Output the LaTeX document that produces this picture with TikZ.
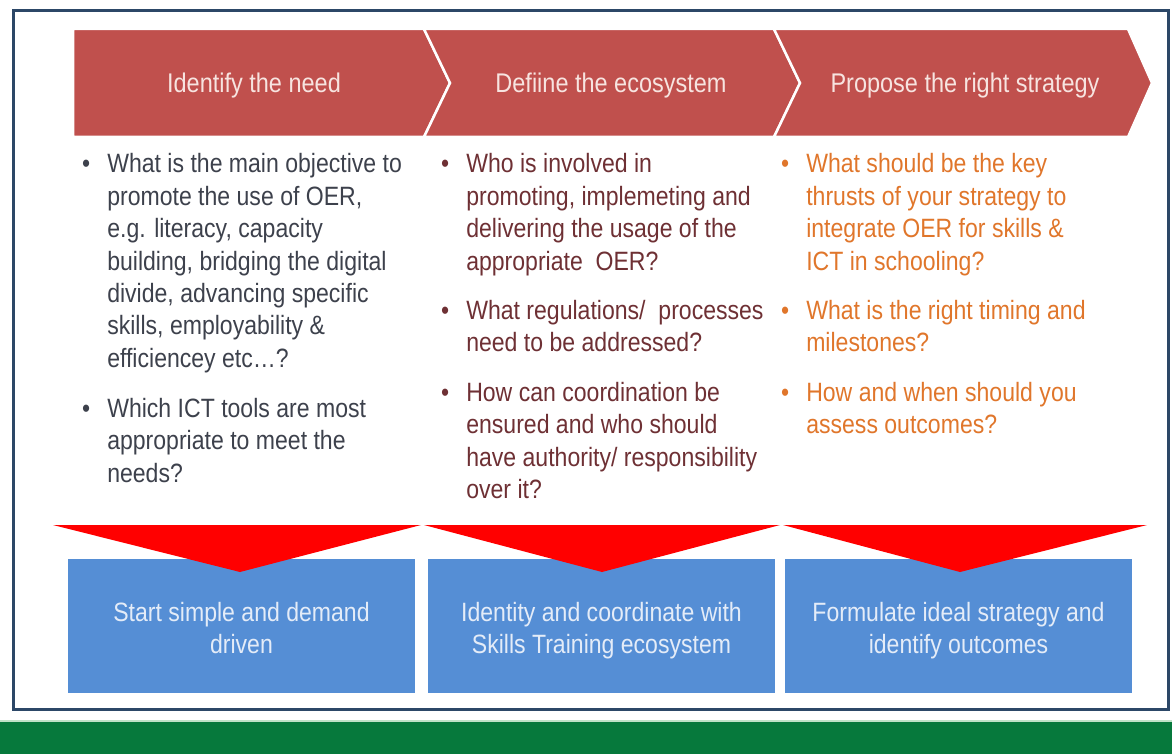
\documentclass[tikz,border=0pt]{standalone}
\usepackage{fontspec}
\setmainfont{Liberation Sans}[FakeStretch=0.87]
\usetikzlibrary{positioning}

\definecolor{stepred}{HTML}{C0504D}
\definecolor{steptext}{HTML}{F7E4E0}
\definecolor{framenavy}{HTML}{2C4767}
\definecolor{footgreen}{HTML}{06793C}
\definecolor{footline}{HTML}{BFE3C8}
\definecolor{outblue}{HTML}{558ED5}
\definecolor{outtext}{HTML}{E4ECF8}
\definecolor{needgray}{HTML}{3D414C}
\definecolor{ecobrown}{HTML}{6E3034}
\definecolor{stratorange}{HTML}{E0762B}

% bullet list in one column, first baseline on the node's base
\newcommand{\qlist}[1]{\begin{tabular}[t]{@{}l@{\hspace{17pt}}l@{}}#1\end{tabular}}

\tikzset{
  chevron/.style={fill=stepred, draw=white, line width=2.5pt, line join=miter},
  steplabel/.style={anchor=base, inner sep=0pt, text=steptext,
    font=\fontsize{27}{32}\selectfont},
  questions/.style={anchor=base west, inner sep=0pt,
    font=\fontsize{26.5}{32.4}\selectfont},
  outcome/.style={fill=outblue, minimum width=347pt, minimum height=134pt,
    inner sep=0pt},
  outtext/.style={anchor=base, inner sep=0pt, align=center, text=outtext,
    font=\fontsize{26.5}{32}\selectfont},
  funnel/.style={fill=red},
}

\begin{document}
\begin{tikzpicture}[x=1pt, y=-1pt]
    \useasboundingbox (0,0) rectangle (1172,754);

    % frame and footer band
    \draw[framenavy, line width=3pt] (13,11) rectangle (1168,709);
    \fill[footline] (0,720) rectangle (1172,722);
    \fill[footgreen] (0,722) rectangle (1172,754);

    % process steps
    \draw[chevron] (73,29) -- (424,29) -- (450,83) -- (424,137) -- (73,137) -- cycle;
    \draw[chevron] (424,29) -- (774,29) -- (800,83) -- (774,137) -- (424,137) -- (450,83) -- cycle;
    \draw[chevron] (774,29) -- (1128,29) -- (1152,83) -- (1128,137) -- (774,137) -- (800,83) -- cycle;

    \node[steplabel] (need) at (254,93) {Identify the need};
    \node[steplabel] (eco) at (611,93) {Defiine the ecosystem};
    \node[steplabel] (strategy) at (965,93) {Propose the right strategy};

    % questions under each step
    \node[questions, text=needgray] (needq) at (82,173) {\qlist{
        \textbullet & What is the main objective to\\
        & promote the use of OER,\\
        & e.g. literacy, capacity\\
        & building, bridging the digital\\
        & divide, advancing specific\\
        & skills, employability \&\\
        & efficiencey etc…?\\[17.5pt]
        \textbullet & Which ICT tools are most\\
        & appropriate to meet the\\
        & needs?}};

    \node[questions, text=ecobrown] (ecoq) at (441,173) {\qlist{
        \textbullet & Who is involved in\\
        & promoting, implemeting and\\
        & delivering the usage of the\\
        & appropriate\ \ OER?\\[16.5pt]
        \textbullet & What regulations/\ \ processes\\
        & need to be addressed?\\[17.5pt]
        \textbullet & How can coordination be\\
        & ensured and who should\\
        & have authority/ responsibility\\
        & over it?}};

    \node[questions, text=stratorange] (strategyq) at (781,173) {\qlist{
        \textbullet & What should be the key\\
        & thrusts of your strategy to\\
        & integrate OER for skills \&\\
        & ICT in schooling?\\[16.5pt]
        \textbullet & What is the right timing and\\
        & milestones?\\[17.5pt]
        \textbullet & How and when should you\\
        & assess outcomes?}};

    % outcomes
    \node[outcome] (needout) at (241.5,626) {};
    \node[outcome] (ecoout) at (601.5,626) {};
    \node[outcome] (strategyout) at (958.5,626) {};

    \node[outtext] at ([yshift=-27pt]needout.center) {Start simple and demand\\driven};
    \node[outtext] at ([yshift=-27pt]ecoout.center) {Identity and coordinate with\\Skills Training ecosystem};
    \node[outtext] at ([yshift=-27pt]strategyout.center) {Formulate ideal strategy and\\identify outcomes};

    \fill[funnel] (53,525) -- (421,525) -- (240,572) -- cycle;
    \fill[funnel] (424,525) -- (780,525) -- (602,572) -- cycle;
    \fill[funnel] (783,525) -- (1147,525) -- (960,572) -- cycle;
\end{tikzpicture}
\end{document}
